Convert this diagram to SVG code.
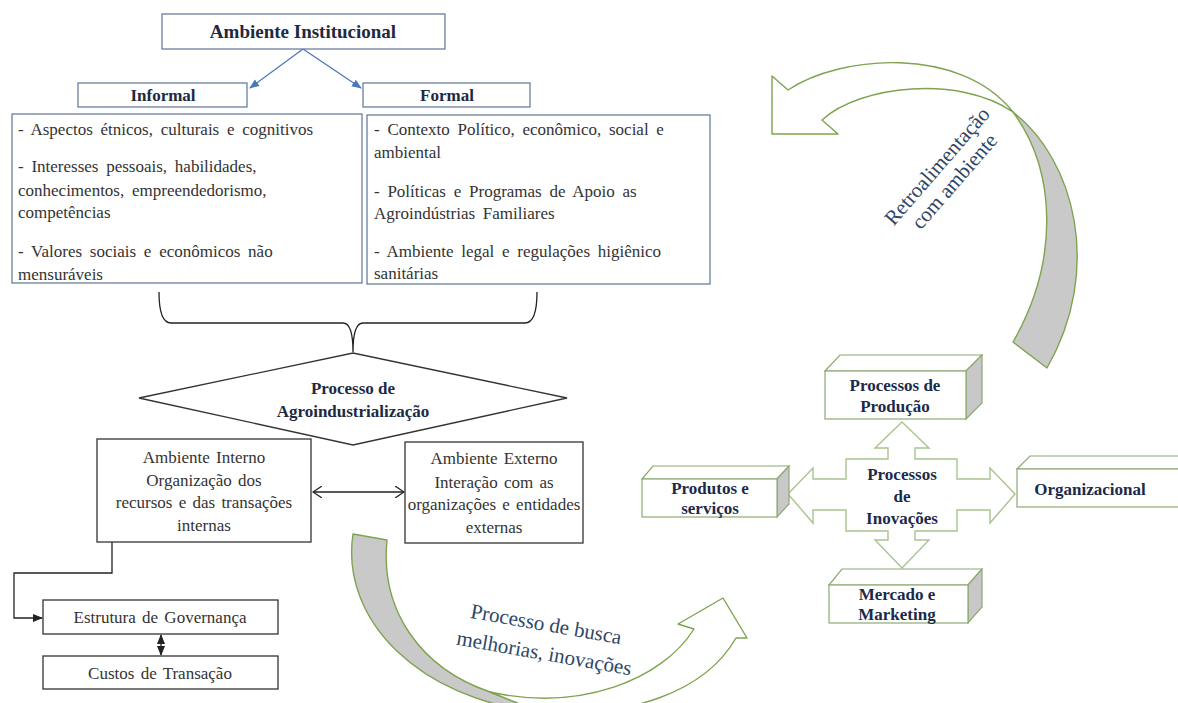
<svg xmlns="http://www.w3.org/2000/svg" width="1178" height="703" viewBox="0 0 1178 703">
  <style>
    .bg { fill: #ffffff; }
    .box-blue { fill: #ffffff; stroke: #6a7f9e; stroke-width: 1.3; }
    .box-dark { fill: #ffffff; stroke: #333333; stroke-width: 1.3; }
    .title { font-family: "Liberation Serif", serif; font-weight: bold; fill: #1e2a40; text-anchor: middle; }
    .body { font-family: "Liberation Serif", serif; font-size: 17px; fill: #333333; word-spacing: 3.5px; }
    .center { font-family: "Liberation Serif", serif; font-size: 17px; fill: #333333; text-anchor: middle; word-spacing: 2px; }
    .cube-face { fill: #ffffff; stroke: #8caa72; stroke-width: 1.2; }
    .cube-side { fill: #c8c8c8; stroke: #8caa72; stroke-width: 1.2; }
    .cube-text { font-family: "Liberation Serif", serif; font-weight: bold; font-size: 17px; fill: #1c2a4a; text-anchor: middle; }
    .flow-gray { fill: #c9c9c9; stroke: #7ea44f; stroke-width: 1.4; stroke-linejoin: round; }
    .flow-white { fill: #ffffff; stroke: #7ea44f; stroke-width: 1.4; stroke-linejoin: round; }
    .flow-text { font-family: "Liberation Serif", serif; font-size: 21px; fill: #2e4868; text-anchor: middle; }
    .blue-line { stroke: #4a78b8; stroke-width: 1.3; fill: none; }
    .black-line { stroke: #222222; stroke-width: 1.3; fill: none; }
    .cross { fill: #ffffff; stroke: #a9c48e; stroke-width: 1.4; stroke-linejoin: miter; }
  </style>
  <defs>
    <marker id="blueHead" markerWidth="10" markerHeight="10" refX="9" refY="5" orient="auto" markerUnits="userSpaceOnUse">
      <path d="M0,1 L10,5 L0,9 Z" fill="#4a78b8"/>
    </marker>
    <marker id="openHead" markerWidth="10" markerHeight="12" refX="9" refY="6" orient="auto-start-reverse" markerUnits="userSpaceOnUse">
      <path d="M0,0 L9,6 L0,12" fill="none" stroke="#222222" stroke-width="1.3"/>
    </marker>
    <marker id="solidHead" markerWidth="10" markerHeight="10" refX="9" refY="5" orient="auto-start-reverse" markerUnits="userSpaceOnUse">
      <path d="M0,1 L10,5 L0,9 Z" fill="#222222"/>
    </marker>
  </defs>

  <rect class="bg" x="0" y="0" width="1178" height="703"/>

  <!-- connectors -->
  <g id="connectors">
    <line class="blue-line" x1="303" y1="49" x2="250" y2="88" marker-end="url(#blueHead)"/>
    <line class="blue-line" x1="303" y1="49" x2="361" y2="88" marker-end="url(#blueHead)"/>
    <!-- brace joining both context boxes into the process -->
    <path class="black-line" d="M159,292 Q159,323 171,323 L343,323 Q353,323 353,352 Q353,323 363,323 L525,323 Q537,323 537,292"/>
    <line class="black-line" x1="313" y1="492" x2="404" y2="492" marker-start="url(#openHead)" marker-end="url(#openHead)"/>
    <path class="black-line" d="M112,542 L112,573 L14,573 L14,618 L42,618" marker-end="url(#solidHead)"/>
    <line class="black-line" x1="161" y1="635" x2="161" y2="655" stroke-width="2" marker-start="url(#solidHead)" marker-end="url(#solidHead)"/>
  </g>

  <!-- curved block arrows -->
  <g id="flow-search">
    <path class="flow-gray" d="M353,534 L387,540 C380,610 420,668 490,692 L540,712 C420,700 340,620 353,534 Z"/>
    <path class="flow-white" d="M490,692 C580,712 662,680 694,629 L678,624 L723,598 L747,638 L736,638 C705,692 630,718 540,712 Z"/>
    <text class="flow-text" transform="translate(545,631) rotate(10)">Processo de busca</text>
    <text class="flow-text" transform="translate(543,660) rotate(10)">melhorias,  inovações</text>
  </g>

  <g id="flow-feedback">
    <path class="flow-white" d="M1013,112 C960,75 860,85 822,120 L838,134 L772,134 L772,76 L788,90 C840,55 960,45 1013,112 Z"/>
    <path class="flow-gray" d="M1013,112 C1075,160 1103,270 1047,368 L1013,342 C1060,260 1056,170 1013,112 Z"/>
    <g transform="translate(946,174) rotate(-49)">
      <text class="flow-text" x="0" y="-5" font-size="20">Retroalimentação</text>
      <text class="flow-text" x="0" y="18" font-size="20">com ambiente</text>
    </g>
  </g>

  <!-- institutional environment -->
  <g id="ambiente-institucional">
    <rect class="box-blue" x="162" y="14" width="283" height="35"/>
    <text class="title" x="303" y="38" font-size="19">Ambiente Institucional</text>
  </g>

  <g id="informal">
    <rect class="box-blue" x="78" y="83" width="169" height="24"/>
    <text class="title" x="163" y="101" font-size="17">Informal</text>
  </g>

  <g id="formal">
    <rect class="box-blue" x="363" y="83" width="167" height="24"/>
    <text class="title" x="447" y="101" font-size="17">Formal</text>
  </g>

  <g id="informal-itens">
    <rect class="box-blue" x="12" y="114" width="350" height="169"/>
    <text class="body" x="18" y="135">- Aspectos  étnicos,  culturais  e cognitivos</text>
    <text class="body" x="18" y="172">- Interesses  pessoais,  habilidades,</text>
    <text class="body" x="18" y="196">conhecimentos,  empreendedorismo,</text>
    <text class="body" x="18" y="218">competências</text>
    <text class="body" x="18" y="257">- Valores  sociais  e econômicos  não</text>
    <text class="body" x="18" y="280">mensuráveis</text>
  </g>

  <g id="formal-itens">
    <rect class="box-blue" x="367" y="115" width="343" height="169"/>
    <text class="body" x="374" y="135">- Contexto  Político,  econômico,  social e</text>
    <text class="body" x="374" y="158">ambiental</text>
    <text class="body" x="374" y="197">- Políticas  e Programas  de Apoio as</text>
    <text class="body" x="374" y="219">Agroindústrias  Familiares</text>
    <text class="body" x="374" y="257">- Ambiente  legal  e regulações  higiênico</text>
    <text class="body" x="374" y="279">sanitárias</text>
  </g>

  <g id="processo-agroindustrializacao">
    <polygon class="box-dark" points="139,398 353,353 567,398 353,445"/>
    <text class="title" x="353" y="394" font-size="17">Processo de</text>
    <text class="title" x="353" y="417" font-size="17">Agroindustrialização</text>
  </g>

  <g id="ambiente-interno">
    <rect class="box-dark" x="97" y="439" width="214" height="103"/>
    <text class="center" x="204" y="463">Ambiente  Interno</text>
    <text class="center" x="204" y="486">Organização  dos</text>
    <text class="center" x="204" y="508">recursos  e das transações</text>
    <text class="center" x="204" y="531">internas</text>
  </g>

  <g id="ambiente-externo">
    <rect class="box-dark" x="405" y="442" width="178" height="101"/>
    <text class="center" x="494" y="464" font-size="16">Ambiente  Externo</text>
    <text class="center" x="494" y="488" font-size="16">Interação  com as</text>
    <text class="center" x="494" y="510" font-size="16">organizações  e entidades</text>
    <text class="center" x="494" y="533" font-size="16">externas</text>
  </g>

  <g id="estrutura-governanca">
    <rect class="box-dark" x="43" y="600" width="235" height="34"/>
    <text class="center" x="160" y="623" font-size="17.5">Estrutura  de Governança</text>
  </g>

  <g id="custos-transacao">
    <rect class="box-dark" x="43" y="656" width="235" height="33"/>
    <text class="center" x="160" y="679" font-size="17.5">Custos de Transação</text>
  </g>

  <!-- innovation hub -->
  <g id="processos-inovacoes">
    <path class="cross" d="M902,422 L929,448 L915,448 L915,459 L957,459 L957,479 L990,479 L990,468 L1015,494 L990,523 L990,510 L957,510 L957,531 L915,531 L915,540 L929,540 L902,568 L875,540 L888,540 L888,531 L846,531 L846,510 L813,510 L813,523 L788,494 L813,468 L813,479 L846,479 L846,459 L888,459 L888,448 L875,448 Z"/>
    <text class="cube-text" x="902" y="480">Processos</text>
    <text class="cube-text" x="902" y="502">de</text>
    <text class="cube-text" x="902" y="524">Inovações</text>
  </g>

  <g id="processos-producao">
    <polygon class="cube-face" points="825,371 840,355 982,355 966,371"/>
    <polygon class="cube-side" points="966,371 982,355 982,403 966,419"/>
    <rect class="cube-face" x="825" y="371" width="141" height="48"/>
    <text class="cube-text" x="895" y="391">Processos de</text>
    <text class="cube-text" x="895" y="412">Produção</text>
  </g>

  <g id="produtos-servicos">
    <polygon class="cube-face" points="642,479 653,466 789,466 777,479"/>
    <polygon class="cube-side" points="777,479 789,466 789,504 777,517"/>
    <rect class="cube-face" x="642" y="479" width="135" height="38"/>
    <text class="cube-text" x="710" y="494">Produtos e</text>
    <text class="cube-text" x="710" y="514">serviços</text>
  </g>

  <g id="organizacional">
    <polygon class="cube-face" points="1017,469 1030,456 1190,456 1178,469"/>
    <rect class="cube-face" x="1017" y="469" width="170" height="38"/>
    <text class="cube-text" x="1090" y="495">Organizacional</text>
  </g>

  <g id="mercado-marketing">
    <polygon class="cube-face" points="829,585 842,569 982,569 968,585"/>
    <polygon class="cube-side" points="968,585 982,569 982,607 968,623"/>
    <rect class="cube-face" x="829" y="585" width="139" height="38"/>
    <text class="cube-text" x="897" y="600">Mercado e</text>
    <text class="cube-text" x="897" y="620">Marketing</text>
  </g>
</svg>
